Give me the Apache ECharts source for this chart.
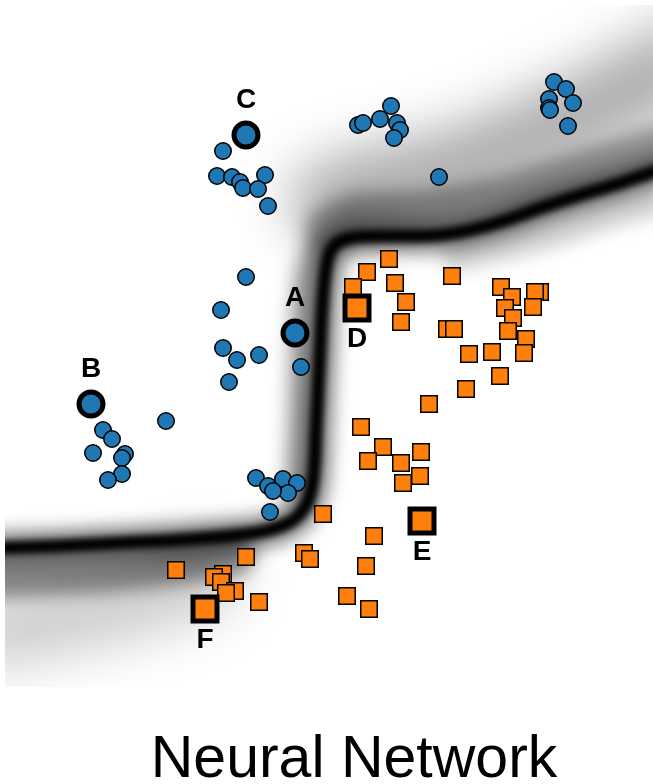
<!DOCTYPE html>
<html>
<head>
<meta charset="utf-8">
<script src="https://cdn.jsdelivr.net/npm/echarts@6/dist/echarts.min.js"></script>
<style>
  html, body { margin: 0; padding: 0; background: #ffffff; }
  #stage { position: relative; width: 653px; height: 784px; overflow: hidden; }
  /* plot window that clips the blurred probability layers */
  .window { position: absolute; left: 5px; top: 5px; width: 648px; height: 682px; overflow: hidden; }
  .field { position: absolute; left: -105px; top: -105px; width: 853px; height: 984px; }
  #haze { filter: blur(26px); }
  #soft { filter: blur(9px); }
  #core { filter: blur(3px); }
  #points { position: absolute; left: 0; top: 0; width: 653px; height: 784px; }
</style>
</head>
<body>
<div id="stage">
  <div class="window"><div id="haze" class="field"></div></div>
  <div class="window"><div id="soft" class="field"></div></div>
  <div class="window"><div id="core" class="field"></div></div>
  <div id="points"></div>
</div>
<script>
// Samples of class 0 (blue circles), [x1, x2] in feature units
const classBlue = [
  [2.18, 5.36], [2.12, 5.11], [2.27, 5.10], [2.35, 5.05], [2.38, 4.99],
  [2.60, 5.12], [2.53, 4.98], [2.63, 4.81],
  [3.86, 5.81], [3.75, 5.68], [3.53, 5.62], [3.58, 5.64], [3.92, 5.64],
  [3.95, 5.57], [3.89, 5.49], [4.34, 5.10],
  [5.49, 6.05], [5.61, 5.98], [5.68, 5.84], [5.44, 5.88], [5.44, 5.79],
  [5.45, 5.77], [5.63, 5.61],
  [2.41, 4.10], [2.16, 3.77], [2.18, 3.39], [2.32, 3.27], [2.54, 3.32],
  [2.96, 3.20], [2.24, 3.05], [1.61, 2.66], [0.98, 2.57], [1.07, 2.48],
  [0.88, 2.34], [1.20, 2.33], [1.17, 2.29], [1.17, 2.13], [1.03, 2.07],
  [2.51, 2.09], [2.78, 2.08], [2.92, 2.04], [2.63, 2.01], [2.83, 1.94],
  [2.68, 1.96], [2.65, 1.75]
];

// Samples of class 1 (orange squares)
const classOrange = [
  [3.84, 4.28], [3.62, 4.15], [3.48, 4.00], [3.90, 4.04], [4.01, 3.85],
  [3.96, 3.65], [4.47, 4.11], [4.42, 3.58], [4.49, 3.58], [4.96, 4.00],
  [5.07, 3.90], [5.00, 3.79], [5.35, 3.95], [5.30, 3.95], [5.28, 3.80],
  [5.08, 3.69], [5.03, 3.56], [5.21, 3.48], [5.19, 3.34], [4.64, 3.33],
  [4.87, 3.35], [4.95, 3.11], [4.61, 2.98], [4.24, 2.83],
  [3.56, 2.60], [3.78, 2.40], [3.63, 2.26], [3.96, 2.24], [4.16, 2.35],
  [4.15, 2.11], [3.98, 2.04], [3.18, 1.73], [3.69, 1.51],
  [2.41, 1.30], [2.99, 1.34], [3.05, 1.28], [3.61, 1.21], [1.71, 1.17],
  [2.18, 1.13], [2.09, 1.10], [2.16, 1.05], [2.30, 0.96], [2.21, 0.94],
  [2.54, 0.85], [3.42, 0.91], [3.64, 0.78]
];

// Labelled samples
const markNames = ['A', 'B', 'C', 'D', 'E', 'F'];
const markX = [2.90, 0.86, 2.41, 3.52, 4.17, 2.00];
const markY = [3.54, 2.83, 5.52, 3.79, 1.66, 0.78];
const markClass = [0, 0, 0, 1, 1, 1];
const markSide = ['top', 'top', 'top', 'bottom', 'bottom', 'bottom'];

// Decision boundary of the network (p = 0.5)
const boundary = [
  [-1.00, 1.36], [0.00, 1.39], [0.55, 1.41], [1.15, 1.44], [1.75, 1.47],
  [2.25, 1.51], [2.60, 1.56], [2.85, 1.65], [2.98, 1.77], [3.05, 1.92],
  [3.09, 2.17], [3.11, 2.57], [3.13, 2.97], [3.15, 3.37], [3.17, 3.77],
  [3.20, 4.12], [3.24, 4.32], [3.31, 4.43], [3.45, 4.49], [3.75, 4.51],
  [4.15, 4.51], [4.55, 4.55], [4.95, 4.65], [5.35, 4.79], [5.75, 4.92],
  [6.15, 5.04], [6.48, 5.15], [7.50, 5.45]
];

// Uncertain shoulders of the probability surface beside the boundary
const shoulderUpperNear = [
  [3.20, 4.58], [3.50, 4.72], [4.15, 4.76], [4.95, 4.90], [5.75, 5.15], [6.48, 5.38], [7.50, 5.70]
];
const shoulderUpperFar = [
  [3.25, 4.85], [3.70, 5.00], [4.30, 5.12], [4.95, 5.35], [5.75, 5.72], [6.48, 6.10], [7.50, 6.65]
];
const shoulderBelowRight = [
  [4.50, 4.30], [5.35, 4.50], [6.15, 4.76], [7.50, 5.10]
];
const shoulderLowerNear = [
  [-1.00, 1.08], [0.00, 1.10], [1.00, 1.15], [1.80, 1.24], [2.30, 1.32]
];
const shoulderLowerFar = [
  [-1.00, 0.50], [0.00, 0.58], [0.90, 0.76], [1.60, 0.95], [2.00, 1.10]
];
const shoulderSide = [
  [2.90, 1.95], [2.93, 2.60], [2.95, 3.40], [2.99, 4.05], [3.10, 4.40]
];

const BLUE = '#1f77b4';
const ORANGE = '#ff7f0e';
const FONT = 'Liberation Sans, Arial, Helvetica, sans-serif';

function stroke(data, width, alpha) {
  return {
    type: 'line',
    data: data,
    smooth: 0.3,
    symbol: 'none',
    silent: true,
    clip: false,
    lineStyle: { width: width, color: 'rgba(0,0,0,' + alpha + ')', cap: 'round', join: 'round' }
  };
}

// Same mapping from feature units to the page for every layer
function fieldOption(series) {
  return {
    animation: false,
    grid: { left: 105, top: 105, width: 648, height: 682 },
    xAxis: { type: 'value', min: 0, max: 6.48, show: false },
    yAxis: { type: 'value', min: 0, max: 6.82, show: false },
    series: series
  };
}

echarts.init(document.getElementById('haze')).setOption(fieldOption([
  stroke(shoulderUpperFar, 80, 0.32),
  stroke(shoulderLowerFar, 70, 0.2)
]));

echarts.init(document.getElementById('soft')).setOption(fieldOption([
  stroke(shoulderUpperNear, 40, 0.4),
  stroke(shoulderLowerNear, 40, 0.45),
  stroke(shoulderBelowRight, 26, 0.2),
  stroke(shoulderSide, 22, 0.35),
  stroke(boundary, 30, 0.55)
]));

echarts.init(document.getElementById('core')).setOption(fieldOption([
  stroke(boundary, 13, 1)
]));

function marked(cls) {
  const items = [];
  for (let i = 0; i < markNames.length; i++) {
    if (markClass[i] !== cls) continue;
    items.push({
      name: markNames[i],
      value: [markX[i], markY[i]],
      label: { offset: markSide[i] === 'top' ? [0, -35] : [0, 31] }
    });
  }
  return items;
}

const labelStyle = {
  show: true,
  position: 'inside',
  formatter: '{b}',
  color: '#000',
  fontFamily: FONT,
  fontWeight: 'bold',
  fontSize: 28
};

echarts.init(document.getElementById('points')).setOption({
  animation: false,
  backgroundColor: 'transparent',
  title: {
    text: 'Neural Network',
    left: 349,
    top: 726,
    textAlign: 'center',
    textStyle: { fontFamily: FONT, fontWeight: 'normal', fontSize: 59, color: '#000' }
  },
  grid: { left: 5, top: 5, width: 648, height: 682 },
  xAxis: { type: 'value', min: 0, max: 6.48, show: false },
  yAxis: { type: 'value', min: 0, max: 6.82, show: false },
  series: [
    {
      type: 'scatter',
      data: classBlue,
      symbol: 'circle',
      symbolSize: 16.5,
      itemStyle: { color: BLUE, borderColor: '#000', borderWidth: 1.5, opacity: 1 }
    },
    {
      type: 'scatter',
      data: classOrange,
      symbol: 'rect',
      symbolSize: 16.5,
      itemStyle: { color: ORANGE, borderColor: '#000', borderWidth: 1.5, opacity: 1 }
    },
    {
      type: 'scatter',
      data: marked(0),
      symbol: 'circle',
      symbolSize: 24,
      z: 3,
      itemStyle: { color: BLUE, borderColor: '#000', borderWidth: 5, opacity: 1 },
      label: labelStyle
    },
    {
      type: 'scatter',
      data: marked(1),
      symbol: 'rect',
      symbolSize: 24,
      z: 3,
      itemStyle: { color: ORANGE, borderColor: '#000', borderWidth: 5, opacity: 1 },
      label: labelStyle
    }
  ]
});
</script>
</body>
</html>
